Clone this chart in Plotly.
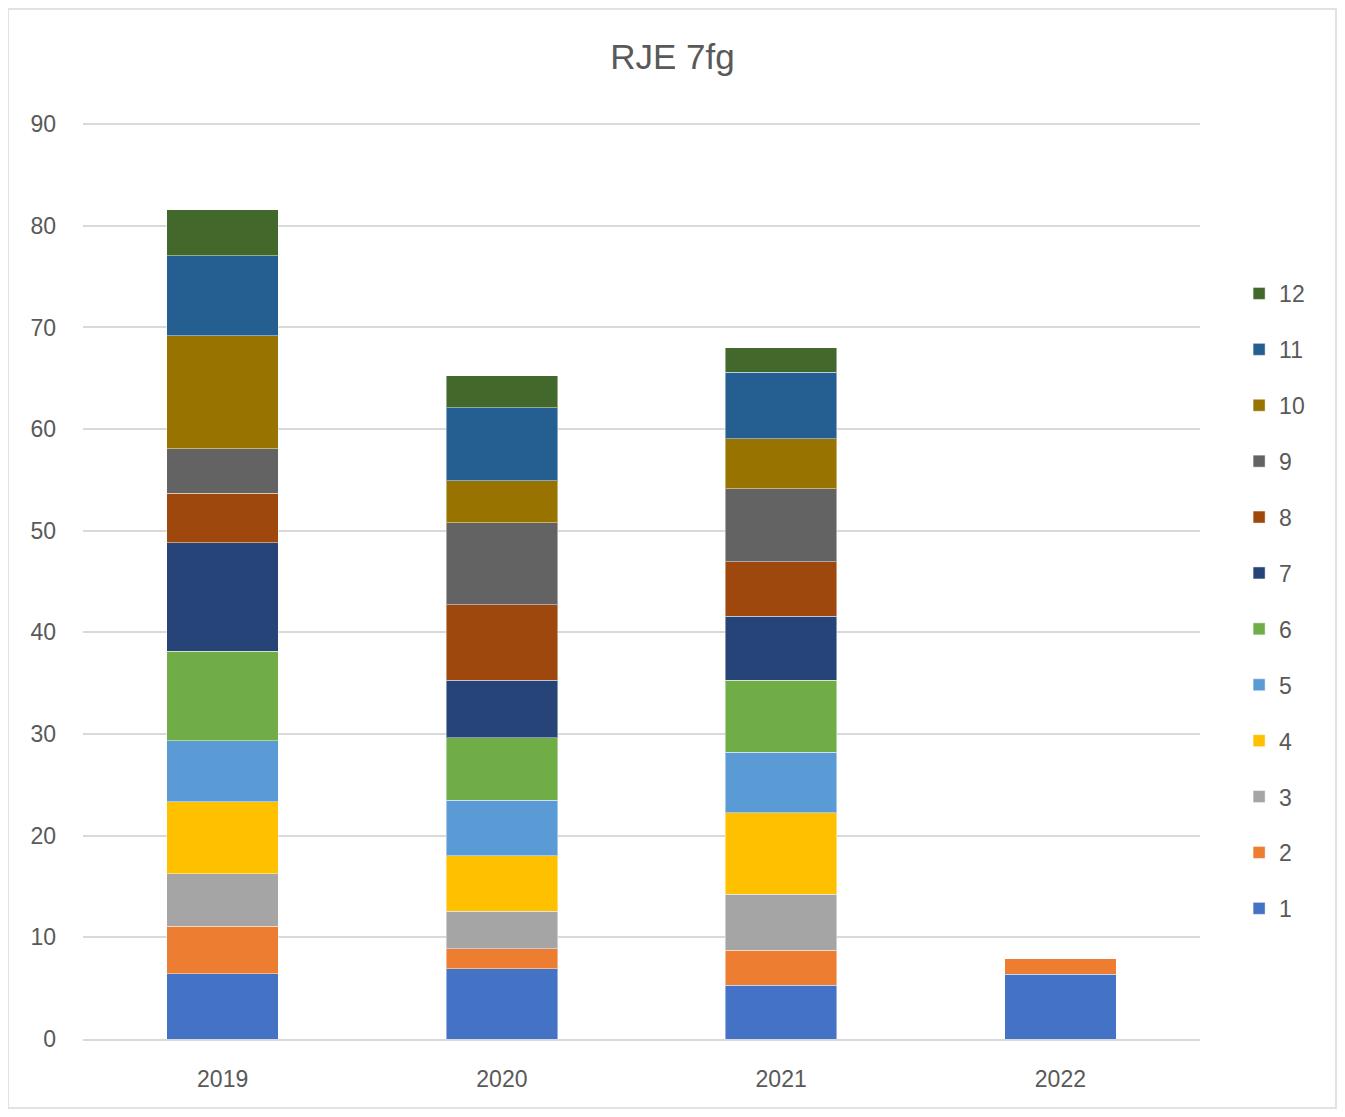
import plotly.graph_objects as go

YEARS = ["2019", "2020", "2021", "2022"]
SERIES = ["1", "2", "3", "4", "5", "6", "7", "8", "9", "10", "11", "12"]

S1 = [6.4, 6.9, 5.3, 6.35]
S2 = [4.7, 2.0, 3.45, 1.6]
S3 = [5.15, 3.65, 5.5, 0]
S4 = [7.1, 5.5, 8.0, 0]
S5 = [6.0, 5.45, 5.95, 0]
S6 = [8.8, 6.15, 7.1, 0]
S7 = [10.65, 5.65, 6.3, 0]
S8 = [4.9, 7.4, 5.35, 0]
S9 = [4.35, 8.1, 7.2, 0]
S10 = [11.15, 4.1, 4.9, 0]
S11 = [7.85, 7.2, 6.55, 0]
S12 = [4.55, 3.15, 2.4, 0]
VALUES = [S1, S2, S3, S4, S5, S6, S7, S8, S9, S10, S11, S12]

COLORS = ["#4472c4", "#ed7d31", "#a5a5a5", "#ffc000", "#5b9bd5", "#70ad47",
          "#264478", "#9e480e", "#636363", "#997300", "#255e91", "#43682b"]

TEXT = "#595959"
FONT = "Liberation Sans, Arial, sans-serif"

W, H = 1329, 1101
ML, MR, MT, MB = 75, 137, 106, 70

fig = go.Figure()
for i, (name, vals, color) in enumerate(zip(SERIES, VALUES, COLORS)):
    fig.add_trace(go.Bar(
        x=YEARS, y=vals, name=name, legendgroup=name, legendrank=100 - i,
        marker=dict(color=color, line=dict(color="rgba(255,255,255,0.45)", width=1)),
    ))

pw = W - ML - MR
ph = H - MT - MB
fig.add_shape(
    type="rect", xref="paper", yref="paper",
    x0=-ML / pw, x1=(W - ML - 1) / pw,
    y0=-(MB - 1) / ph, y1=1 + (MT - 1) / ph,
    line=dict(color="#d9d9d9", width=1.5), layer="below",
)

fig.update_layout(
    width=W, height=H,
    margin=dict(l=ML, r=MR, t=MT, b=MB),
    barmode="stack", bargap=0.6,
    paper_bgcolor="white", plot_bgcolor="white",
    font=dict(family=FONT, color=TEXT, size=23),
    title=dict(text="RJE 7fg", x=0.5, xanchor="center", y=1 - 49 / H, yanchor="middle",
               font=dict(size=35, color=TEXT)),
    legend=dict(traceorder="grouped", tracegroupgap=23, x=1.035, xanchor="left",
                y=(H - MB - 593) / ph, yanchor="middle", font=dict(size=23, color=TEXT)),
    showlegend=True,
)
fig.update_yaxes(range=[0, 91], tickvals=[0, 10, 20, 30, 40, 50, 60, 70, 80, 90],
                 gridcolor="#d9d9d9", gridwidth=2,
                 zeroline=False, ticks="", showline=False, ticklabelstandoff=26)
fig.update_xaxes(showline=True, linecolor="#d9d9d9", linewidth=2, ticks="",
                 ticklabelstandoff=18)

fig.write_html("out.html")
